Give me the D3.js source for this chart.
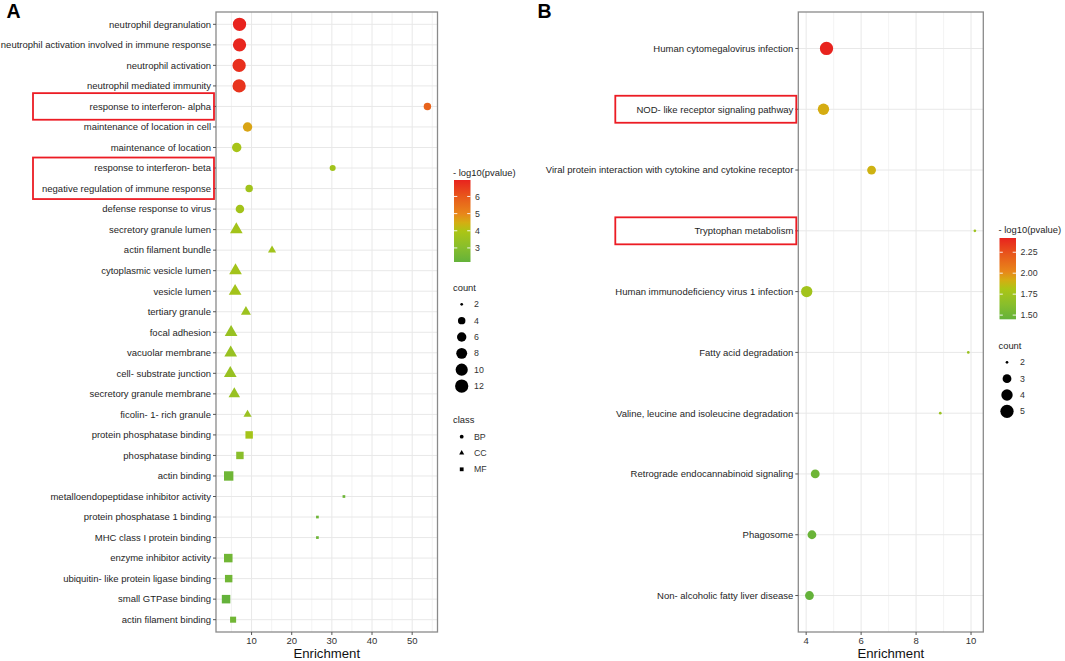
<!DOCTYPE html>
<html><head><meta charset="utf-8">
<script src="https://cdn.jsdelivr.net/npm/d3@7"></script>
<style>
body{margin:0;background:#fff}
svg{display:block}
text{font-family:"Liberation Sans",Arial,Helvetica,sans-serif}
</style>
</head><body>
<svg id="chart" width="1065" height="661"></svg>
<script>
// ---------------- Panel A data (GO terms) ----------------
const termsA = [
  "neutrophil degranulation",
  "neutrophil activation involved in immune response",
  "neutrophil activation",
  "neutrophil mediated immunity",
  "response to interferon- alpha",
  "maintenance of location in cell",
  "maintenance of location",
  "response to interferon- beta",
  "negative regulation of immune response",
  "defense response to virus",
  "secretory granule lumen",
  "actin filament bundle",
  "cytoplasmic vesicle lumen",
  "vesicle lumen",
  "tertiary granule",
  "focal adhesion",
  "vacuolar membrane",
  "cell- substrate junction",
  "secretory granule membrane",
  "ficolin- 1- rich granule",
  "protein phosphatase binding",
  "phosphatase binding",
  "actin binding",
  "metalloendopeptidase inhibitor activity",
  "protein phosphatase 1 binding",
  "MHC class I protein binding",
  "enzyme inhibitor activity",
  "ubiquitin- like protein ligase binding",
  "small GTPase binding",
  "actin filament binding"
];
const enrichA = [7.0, 7.0, 6.9, 6.9, 53.8, 9.0, 6.3, 30.2, 9.4, 7.1,
                 6.2, 15.1, 6.0, 5.9, 8.6, 4.9, 4.8, 4.7, 5.7, 9.0,
                 9.4, 7.1, 4.3, 33.0, 26.4, 26.4, 4.2, 4.3, 3.65, 5.4];
const countA = [12, 12, 12, 12, 4, 6, 6, 3, 4, 5,
                6, 3, 6, 6, 4, 6, 6, 6, 5, 3,
                4, 4, 6, 2, 2, 2, 5, 4, 5, 3];
const logPA = [6.96, 6.9, 6.75, 6.65, 5.75, 4.6, 3.85, 3.7, 3.7, 3.75,
               3.75, 3.7, 3.75, 3.75, 3.55, 3.45, 3.45, 3.45, 3.45, 3.5,
               3.8, 3.1, 2.45, 2.4, 2.4, 2.4, 2.5, 2.5, 2.18, 2.5];
const classA = ["BP","BP","BP","BP","BP","BP","BP","BP","BP","BP",
                "CC","CC","CC","CC","CC","CC","CC","CC","CC","CC",
                "MF","MF","MF","MF","MF","MF","MF","MF","MF","MF"];
const xTicksA = [10, 20, 30, 40, 50];
const colorTicksA = [3, 4, 5, 6];
const countBreaksA = [2, 4, 6, 8, 10, 12];
const classNames = ["BP", "CC", "MF"];
const highlightA = [["response to interferon- alpha"],
                    ["response to interferon- beta", "negative regulation of immune response"]];

// ---------------- Panel B data (KEGG pathways) ----------------
const termsB = [
  "Human cytomegalovirus infection",
  "NOD- like receptor signaling pathway",
  "Viral protein interaction with cytokine and cytokine receptor",
  "Tryptophan metabolism",
  "Human immunodeficiency virus 1 infection",
  "Fatty acid degradation",
  "Valine, leucine and isoleucine degradation",
  "Retrograde endocannabinoid signaling",
  "Phagosome",
  "Non- alcoholic fatty liver disease"
];
const enrichB = [4.74, 4.63, 6.38, 10.14, 4.02, 9.9, 8.88, 4.33, 4.21, 4.12];
const countB = [5, 4, 3, 2, 4, 2, 2, 3, 3, 3];
const logPB = [2.42, 1.92, 1.9, 1.74, 1.76, 1.72, 1.72, 1.5, 1.48, 1.45];
const xTicksB = [4, 6, 8, 10];
const colorTicksB = [1.5, 1.75, 2.0, 2.25];
const countBreaksB = [2, 3, 4, 5];
const highlightB = [["NOD- like receptor signaling pathway"], ["Tryptophan metabolism"]];

// ---------------- styling ----------------
const FONT_AXIS = 9.5, FONT_LEG = 9.4, FONT_TITLE = 13.2;
const gradStops = [0, 0.18, 0.375, 0.48, 0.585, 0.79, 1];
const gradColors = ["#64b23a", "#88be2c", "#acc515", "#d4ae12", "#e8871a", "#e85a1b", "#e8231e"];
const shapeOf = {BP: d3.symbolCircle, CC: d3.symbolTriangle, MF: d3.symbolSquare};
const svg = d3.select("#chart");

function areaFor(shape, r) {
  if (shape === "MF") return 4 * r * r;          // filled square, side = 2r
  return Math.PI * r * r;                        // circle / equal-area triangle
}

function drawPanel(o) {
  const g = svg.append("g");
  const [x0, x1] = d3.extent(o.enrich);
  const pad = (x1 - x0) * 0.05;
  const x = d3.scaleLinear().domain([x0 - pad, x1 + pad]).range([o.left, o.right]);
  const y = d3.scalePoint().domain(o.terms).range([o.top, o.bottom]).padding(0.6);
  const [c0, c1] = d3.extent(o.logP);
  const color = d3.scaleLinear()
    .domain(gradStops.map(f => c0 + f * (c1 - c0)))
    .range(gradColors).interpolate(d3.interpolateRgb).clamp(true);
  const cnt = d3.extent(o.counts);
  const sizeNorm = d3.scaleLinear().domain(cnt).range([0, 1]);
  const radius = d3.scaleSqrt().domain([0, 1]).range([1.35, 6.65]);
  const rOf = c => radius(sizeNorm(c));

  // grid
  const [d0, d1] = x.domain();
  const minors = [];
  const tk = o.xTicks;
  const step = tk[1] - tk[0];
  for (let v = tk[0] - step / 2; v <= d1; v += step) if (v >= d0) minors.push(v);
  g.selectAll(".gminor").data(minors).join("line")
    .attr("x1", d => x(d)).attr("x2", d => x(d)).attr("y1", o.top).attr("y2", o.bottom)
    .attr("stroke", "#f0f0f0").attr("stroke-width", 0.8);
  g.selectAll(".gmaj").data(tk).join("line")
    .attr("x1", d => x(d)).attr("x2", d => x(d)).attr("y1", o.top).attr("y2", o.bottom)
    .attr("stroke", "#e8e8e8").attr("stroke-width", 1);
  g.selectAll(".gy").data(o.terms).join("line")
    .attr("x1", o.left).attr("x2", o.right).attr("y1", d => y(d)).attr("y2", d => y(d))
    .attr("stroke", "#e8e8e8").attr("stroke-width", 1);

  // points
  o.terms.forEach((t, i) => {
    const cls = o.cls ? o.cls[i] : "BP";
    const r = rOf(o.counts[i]);
    g.append("path")
      .attr("d", d3.symbol().type(shapeOf[cls]).size(areaFor(cls, r))())
      .attr("transform", `translate(${x(o.enrich[i])},${y(t)})`)
      .attr("fill", color(o.logP[i]));
  });

  // border
  g.append("rect").attr("x", o.left).attr("y", o.top)
    .attr("width", o.right - o.left).attr("height", o.bottom - o.top)
    .attr("fill", "none").attr("stroke", "#8a8a8a").attr("stroke-width", 1.3);

  // y axis
  g.selectAll(".yt").data(o.terms).join("line")
    .attr("x1", o.left - 3).attr("x2", o.left).attr("y1", d => y(d)).attr("y2", d => y(d))
    .attr("stroke", "#555");
  g.selectAll(".yl").data(o.terms).join("text")
    .attr("x", o.left - 5).attr("y", d => y(d)).attr("dy", "0.35em")
    .attr("text-anchor", "end").attr("font-size", FONT_AXIS).attr("fill", "#1e1e1e")
    .text(d => d);
  // x axis
  g.selectAll(".xt").data(tk).join("line")
    .attr("x1", d => x(d)).attr("x2", d => x(d)).attr("y1", o.bottom).attr("y2", o.bottom + 3)
    .attr("stroke", "#555");
  g.selectAll(".xl").data(tk).join("text")
    .attr("x", d => x(d)).attr("y", o.bottom + 12.3)
    .attr("text-anchor", "middle").attr("font-size", FONT_AXIS).attr("fill", "#333")
    .text(d => d);
  g.append("text").attr("x", (o.left + o.right) / 2).attr("y", o.bottom + 25.5)
    .attr("text-anchor", "middle").attr("font-size", FONT_TITLE).attr("fill", "#111")
    .text("Enrichment");

  // highlight boxes
  o.highlight.forEach((grp, k) => {
    const ys = grp.map(t => y(t));
    const top = d3.min(ys) - o.boxPad[k], bot = d3.max(ys) + o.boxPad[k];
    g.append("rect").attr("x", o.left - 183).attr("y", top)
      .attr("width", 181).attr("height", bot - top)
      .attr("fill", "none").attr("stroke", "#ec1c24").attr("stroke-width", 1.8);
  });

  // panel letter
  g.append("text").attr("x", o.letterX).attr("y", 17.5).attr("font-size", 19.5)
    .attr("font-weight", "bold").attr("fill", "#000").text(o.letter);

  // ---- colour legend ----
  const L = o.leg;
  g.append("text").attr("x", L.x).attr("y", L.cTitleY).attr("font-size", FONT_LEG)
    .attr("fill", "#1e1e1e").text("- log10(pvalue)");
  const gid = "grad" + o.letter;
  const grad = svg.append("defs").append("linearGradient").attr("id", gid)
    .attr("x1", 0).attr("x2", 0).attr("y1", 1).attr("y2", 0);
  gradStops.forEach((f, i) => grad.append("stop").attr("offset", f).attr("stop-color", gradColors[i]));
  const barX = L.x + 1, barW = 16.5;
  const cy = d3.scaleLinear().domain([c0, c1]).range([L.barBottom, L.barTop]);
  g.append("rect").attr("x", barX).attr("y", L.barTop).attr("width", barW)
    .attr("height", L.barBottom - L.barTop).attr("fill", `url(#${gid})`);
  o.colorTicks.forEach(v => {
    g.append("line").attr("x1", barX).attr("x2", barX + 3.3).attr("y1", cy(v)).attr("y2", cy(v))
      .attr("stroke", "#fff").attr("stroke-width", 0.9);
    g.append("line").attr("x1", barX + barW - 3.3).attr("x2", barX + barW).attr("y1", cy(v)).attr("y2", cy(v))
      .attr("stroke", "#fff").attr("stroke-width", 0.9);
    g.append("text").attr("x", barX + barW + 4.5).attr("y", cy(v)).attr("dy", "0.35em")
      .attr("font-size", FONT_LEG - 0.6).attr("fill", "#333").text(o.colorFmt(v));
  });

  // ---- count legend ----
  g.append("text").attr("x", L.x).attr("y", L.sTitleY).attr("font-size", FONT_LEG)
    .attr("fill", "#1e1e1e").text("count");
  o.countBreaks.forEach((c, i) => {
    const ky = L.sTitleY + 13.3 + i * 16.35;
    g.append("circle").attr("cx", L.keyX).attr("cy", ky).attr("r", rOf(c)).attr("fill", "#000");
    g.append("text").attr("x", L.labX).attr("y", ky).attr("dy", "0.35em")
      .attr("font-size", FONT_LEG - 0.6).attr("fill", "#333").text(c);
  });

  // ---- class legend ----
  if (o.cls) {
    g.append("text").attr("x", L.x).attr("y", L.kTitleY).attr("font-size", FONT_LEG)
      .attr("fill", "#1e1e1e").text("class");
    classNames.forEach((c, i) => {
      const ky = L.kTitleY + 13.3 + i * 16.3;
      g.append("path").attr("d", d3.symbol().type(shapeOf[c]).size(areaFor(c, 1.9))())
        .attr("transform", `translate(${L.keyX},${ky})`).attr("fill", "#000");
      g.append("text").attr("x", L.labX).attr("y", ky).attr("dy", "0.35em")
        .attr("font-size", FONT_LEG - 0.6).attr("fill", "#333").text(c);
    });
  }
}

drawPanel({
  letter: "A", letterX: 6.5,
  terms: termsA, enrich: enrichA, counts: countA, logP: logPA, cls: classA,
  left: 216, right: 437.5, top: 12, bottom: 632,
  xTicks: xTicksA, colorTicks: colorTicksA, countBreaks: countBreaksA,
  colorFmt: d3.format("d"),
  highlight: highlightA, boxPad: [13.3, 10.5],
  leg: {x: 453, cTitleY: 175.6, barTop: 180, barBottom: 262,
        sTitleY: 291, kTitleY: 423.4, keyX: 461.7, labX: 474}
});

drawPanel({
  letter: "B", letterX: 537.5,
  terms: termsB, enrich: enrichB, counts: countB, logP: logPB, cls: null,
  left: 798.3, right: 983.3, top: 12, bottom: 632,
  xTicks: xTicksB, colorTicks: colorTicksB, countBreaks: countBreaksB,
  colorFmt: d3.format(".2f"),
  highlight: highlightB, boxPad: [13.5, 13.5],
  leg: {x: 998.5, cTitleY: 232.7, barTop: 238, barBottom: 319.3,
        sTitleY: 349, kTitleY: 0, keyX: 1007, labX: 1020}
});
</script>
</body></html>
